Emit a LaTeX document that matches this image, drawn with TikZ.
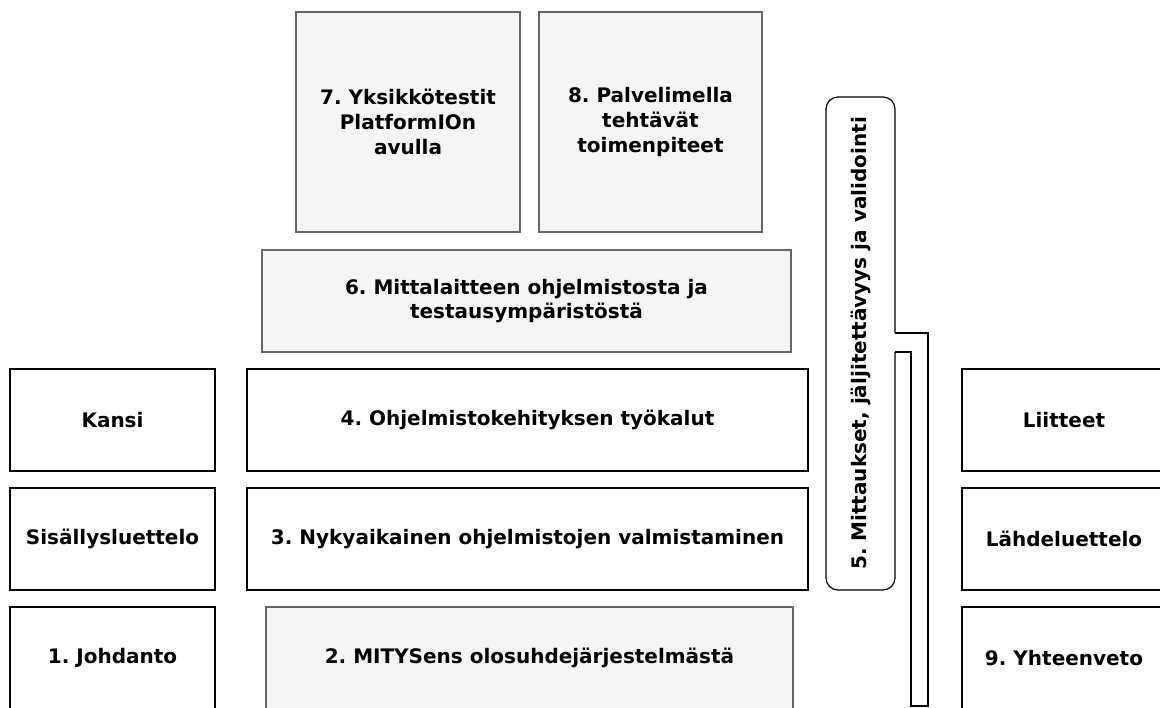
\documentclass[tikz,border=0pt]{standalone}
\usepackage{fontspec}
\setmainfont{DejaVu Sans}
\usepackage{xcolor}
\usepackage{tikz}
\frenchspacing

\definecolor{boxgray}{HTML}{F5F5F5}
\definecolor{linegray}{HTML}{666666}

\tikzset{
  sized/.style 2 args={minimum width=#1*0.75pt, minimum height=#2*0.75pt},
  chapter/.style={draw=black, fill=white, line width=1.1pt, inner sep=2pt,
    align=center, font=\fontsize{15}{18.5}\selectfont\bfseries},
  newchapter/.style={chapter, draw=linegray, fill=boxgray, line width=0.9pt},
}

\begin{document}
\begin{tikzpicture}[x=0.75pt, y=-0.75pt]
    \useasboundingbox (0,0) rectangle (1160,707);
    \clip (0,0) rectangle (1160,707);

      \node[newchapter, sized={224}{220}] (c7) at (408,122) {7. Yksikkötestit\\PlatformIOn\\avulla};
      \node[newchapter, sized={223}{220}] (c8) at (650.5,122) {8. Palvelimella\\tehtävät\\toimenpiteet};
      \node[newchapter, sized={529}{102}] (c6) at (526.5,301) {6. Mittalaitteen ohjelmistosta ja\\testausympäristöstä};

      \node[chapter, sized={205}{102}] (kansi) at (112.5,420) {Kansi};
      \node[chapter, sized={561}{102}] (c4) at (527.5,420) {4. Ohjelmistokehityksen työkalut};
      \node[chapter, sized={204}{102}] (liitteet) at (1064,420) {Liitteet};

      \node[chapter, sized={205}{102}] (sisallys) at (112.5,539) {Sisällysluettelo};
      \node[chapter, sized={561}{102}] (c3) at (527.5,539) {3. Nykyaikainen ohjelmistojen valmistaminen};
      \node[chapter, sized={204}{102}] (lahteet) at (1064,539) {Lähdeluettelo};

      \node[chapter, sized={205}{102}] (c1) at (112.5,658) {1. Johdanto};
      \node[newchapter, sized={527}{102}] (c2) at (529.5,658) {2. MITYSens olosuhdejärjestelmästä};
      \node[chapter, sized={204}{102}] (c9) at (1064,658) {9. Yhteenveto};

      \node[chapter, rounded corners=9pt, line width=0.9pt, sized={69}{493}] (c5) at (860.5,343.5)
        {\rotatebox{90}{5. Mittaukset, jäljitettävyys ja validointi}};

      % side bar next to chapter 5
      \fill[white] (893,333) rectangle (899,352);
      \draw[line width=0.9pt] (895,333) -| (928,706) -| (911,352) -- (895,352);
\end{tikzpicture}
\end{document}
